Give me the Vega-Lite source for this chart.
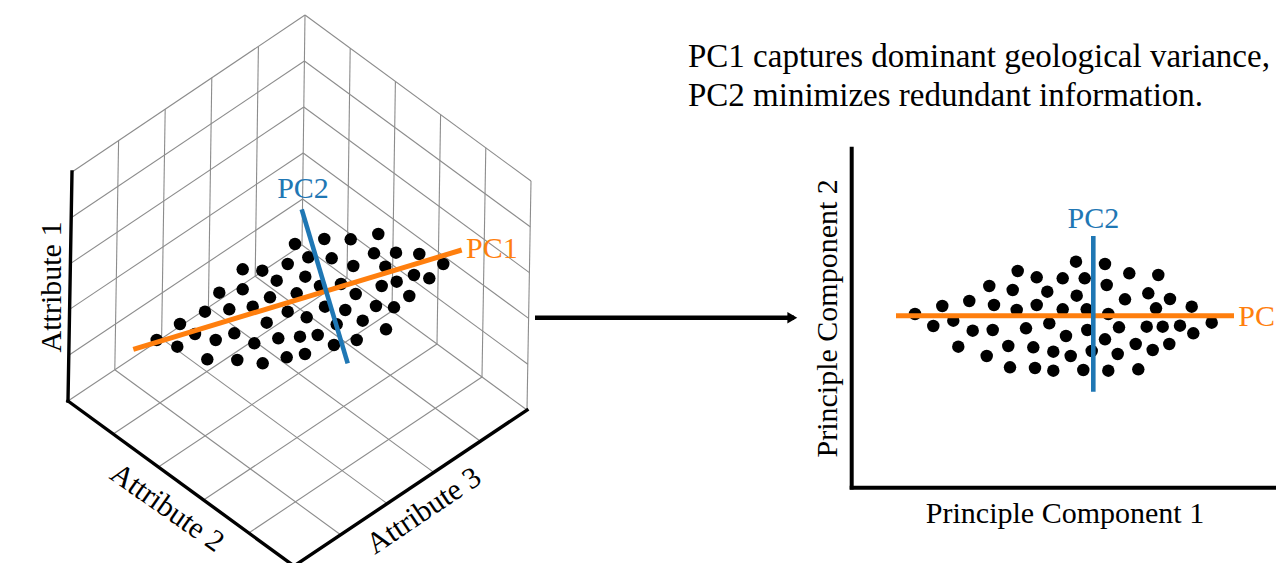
{
  "$schema": "https://vega.github.io/schema/vega-lite/v6.json",
  "width": 1276,
  "height": 563,
  "autosize": "none",
  "padding": 0,
  "background": "white",
  "config": {"view": {"stroke": null}},
  "encoding": {
    "x": {"field": "x", "type": "quantitative", "scale": {"domain": [0, 1276], "nice": false, "zero": false}, "axis": null},
    "y": {"field": "y", "type": "quantitative", "scale": {"domain": [563, 0], "nice": false, "zero": false}, "axis": null}
  },
  "layer": [
    {
      "data": {"values": [
        {"x": 305, "y": 15, "x2": 72, "y2": 172},
        {"x": 305, "y": 15, "x2": 302, "y2": 245},
        {"x": 302, "y": 245, "x2": 68, "y2": 401},
        {"x": 118.6, "y": 140.6, "x2": 114.8, "y2": 369.8},
        {"x": 165.2, "y": 109.2, "x2": 161.6, "y2": 338.6},
        {"x": 211.8, "y": 77.8, "x2": 208.4, "y2": 307.4},
        {"x": 258.4, "y": 46.4, "x2": 255.2, "y2": 276.2},
        {"x": 71.2, "y": 217.8, "x2": 304.4, "y2": 61},
        {"x": 70.4, "y": 263.6, "x2": 303.8, "y2": 107},
        {"x": 69.6, "y": 309.4, "x2": 303.2, "y2": 153},
        {"x": 68.8, "y": 355.2, "x2": 302.6, "y2": 199},
        {"x": 305, "y": 15, "x2": 531, "y2": 181},
        {"x": 531, "y": 181, "x2": 527, "y2": 410},
        {"x": 302, "y": 245, "x2": 527, "y2": 410},
        {"x": 350.2, "y": 48.2, "x2": 347, "y2": 278},
        {"x": 395.4, "y": 81.4, "x2": 392, "y2": 311},
        {"x": 440.6, "y": 114.6, "x2": 437, "y2": 344},
        {"x": 485.8, "y": 147.8, "x2": 482, "y2": 377},
        {"x": 304.4, "y": 61, "x2": 530.2, "y2": 226.8},
        {"x": 303.8, "y": 107, "x2": 529.4, "y2": 272.6},
        {"x": 303.2, "y": 153, "x2": 528.6, "y2": 318.4},
        {"x": 302.6, "y": 199, "x2": 527.8, "y2": 364.2},
        {"x": 255.2, "y": 276.2, "x2": 480.4, "y2": 441.2},
        {"x": 208.4, "y": 307.4, "x2": 433.8, "y2": 472.4},
        {"x": 161.6, "y": 338.6, "x2": 387.2, "y2": 503.6},
        {"x": 114.8, "y": 369.8, "x2": 340.6, "y2": 534.8},
        {"x": 347, "y": 278, "x2": 113.2, "y2": 434},
        {"x": 392, "y": 311, "x2": 158.4, "y2": 467},
        {"x": 437, "y": 344, "x2": 203.6, "y2": 500},
        {"x": 482, "y": 377, "x2": 248.8, "y2": 533}
      ]},
      "mark": {"type": "rule", "color": "#8c8c8c", "strokeWidth": 1.1, "clip": true},
      "encoding": {"x2": {"field": "x2"}, "y2": {"field": "y2"}}
    },
    {
      "data": {"values": [
        {"x": 72, "y": 172, "x2": 68, "y2": 401},
        {"x": 68, "y": 401, "x2": 294, "y2": 566},
        {"x": 294, "y": 566, "x2": 527, "y2": 410}
      ]},
      "mark": {"type": "rule", "color": "#000000", "strokeWidth": 3.4, "strokeCap": "square", "clip": true},
      "encoding": {"x2": {"field": "x2"}, "y2": {"field": "y2"}}
    },
    {
      "data": {"values": [
        {"x": 851.7, "y": 146.7, "x2": 851.7, "y2": 489.6},
        {"x": 849.7, "y": 487.7, "x2": 1276, "y2": 487.7}
      ]},
      "mark": {"type": "rule", "color": "#000000", "strokeWidth": 4, "clip": true},
      "encoding": {"x2": {"field": "x2"}, "y2": {"field": "y2"}}
    },
    {
      "data": {"values": [
        {"x": 535, "y": 317.7, "x2": 794, "y2": 317.7}
      ]},
      "mark": {"type": "rule", "color": "#000000", "strokeWidth": 4.5, "clip": true},
      "encoding": {"x2": {"field": "x2"}, "y2": {"field": "y2"}}
    },
    {
      "data": {"values": [{"x": 792.3, "y": 317.7}]},
      "mark": {"type": "point", "shape": "triangle-right", "filled": true, "color": "#000000", "opacity": 1, "size": 130, "clip": true}
    },
    {
      "data": {"values": [
        {"x": 378.3, "y": 234}, {"x": 324.3, "y": 239}, {"x": 350.7, "y": 239.3}, {"x": 295, "y": 244},
        {"x": 374, "y": 253.3}, {"x": 396, "y": 252.7}, {"x": 419.3, "y": 254}, {"x": 308.3, "y": 257.3},
        {"x": 331.7, "y": 258.3}, {"x": 443.3, "y": 264}, {"x": 287.7, "y": 264}, {"x": 353.3, "y": 266},
        {"x": 385.3, "y": 266.7}, {"x": 242.7, "y": 269.3}, {"x": 262.3, "y": 270.7}, {"x": 414, "y": 275},
        {"x": 429.3, "y": 278.3}, {"x": 305.3, "y": 276.7}, {"x": 276.7, "y": 280.7}, {"x": 396.7, "y": 281.7},
        {"x": 381.7, "y": 286}, {"x": 341, "y": 284}, {"x": 320, "y": 286}, {"x": 242.7, "y": 289.3},
        {"x": 219.3, "y": 292.7}, {"x": 296.7, "y": 293.3}, {"x": 270, "y": 297.3}, {"x": 355.7, "y": 294},
        {"x": 409.3, "y": 296}, {"x": 205, "y": 311.7}, {"x": 229.3, "y": 309.3}, {"x": 252.7, "y": 306.7},
        {"x": 287.7, "y": 311.7}, {"x": 325, "y": 306.7}, {"x": 345.3, "y": 310}, {"x": 376, "y": 306},
        {"x": 394, "y": 307.3}, {"x": 306.7, "y": 317.3}, {"x": 266.7, "y": 322.7}, {"x": 180, "y": 324},
        {"x": 362.7, "y": 320.7}, {"x": 336.7, "y": 324.3}, {"x": 386, "y": 329.3}, {"x": 156.7, "y": 340},
        {"x": 195, "y": 334}, {"x": 234.3, "y": 333.3}, {"x": 278.3, "y": 338.3}, {"x": 300, "y": 336.7},
        {"x": 317.7, "y": 335}, {"x": 215.7, "y": 340}, {"x": 254.3, "y": 343.3}, {"x": 356.7, "y": 340},
        {"x": 177.3, "y": 346.7}, {"x": 334, "y": 345}, {"x": 286.7, "y": 357.3}, {"x": 305, "y": 354},
        {"x": 207.3, "y": 359.3}, {"x": 237.3, "y": 360}, {"x": 262.7, "y": 363.3}
      ]},
      "mark": {"type": "circle", "color": "#000000", "opacity": 1, "size": 155}
    },
    {
      "data": {"values": [
        {"x": 1076, "y": 261.7}, {"x": 1105, "y": 264}, {"x": 1017.7, "y": 271}, {"x": 1036.7, "y": 277.3},
        {"x": 1062.7, "y": 278.3}, {"x": 1084.7, "y": 278.3}, {"x": 1129.3, "y": 273.3}, {"x": 1158.3, "y": 275},
        {"x": 989.3, "y": 286}, {"x": 1012.7, "y": 290}, {"x": 1047.3, "y": 291.7}, {"x": 1076.7, "y": 295.7},
        {"x": 1106.7, "y": 285}, {"x": 969.3, "y": 301}, {"x": 994, "y": 305}, {"x": 1016.7, "y": 310},
        {"x": 1036.7, "y": 305}, {"x": 1062.7, "y": 309.3}, {"x": 1086.7, "y": 309.3}, {"x": 1125, "y": 299.3},
        {"x": 1148.3, "y": 293.3}, {"x": 1170, "y": 299}, {"x": 1156, "y": 308.3}, {"x": 1191.7, "y": 306.7},
        {"x": 942.3, "y": 306}, {"x": 915, "y": 314}, {"x": 1108.3, "y": 314}, {"x": 933.3, "y": 326},
        {"x": 953.3, "y": 320.7}, {"x": 972.7, "y": 330.7}, {"x": 992.7, "y": 330}, {"x": 1026, "y": 328.3},
        {"x": 1049.3, "y": 323.3}, {"x": 1066, "y": 336}, {"x": 1087.3, "y": 330}, {"x": 1119, "y": 327.3},
        {"x": 1146.7, "y": 326.7}, {"x": 1162.7, "y": 326.7}, {"x": 1180, "y": 325.7}, {"x": 1211.7, "y": 322.7},
        {"x": 1193.3, "y": 333.3}, {"x": 1105, "y": 339.3}, {"x": 958.3, "y": 346.7}, {"x": 1008.3, "y": 346},
        {"x": 1033.3, "y": 347.3}, {"x": 1053.3, "y": 351.7}, {"x": 1070.7, "y": 356}, {"x": 1091.7, "y": 351},
        {"x": 1117.7, "y": 354}, {"x": 1135.7, "y": 344}, {"x": 1152.7, "y": 350}, {"x": 1169.3, "y": 344},
        {"x": 986.7, "y": 356}, {"x": 1010, "y": 367.3}, {"x": 1035, "y": 368}, {"x": 1053.3, "y": 370.7},
        {"x": 1083.3, "y": 370}, {"x": 1108.3, "y": 370.7}, {"x": 1138.3, "y": 369.3}
      ]},
      "mark": {"type": "circle", "color": "#000000", "opacity": 1, "size": 155}
    },
    {
      "data": {"values": [
        {"x": 133.3, "y": 349.3, "x2": 461.7, "y2": 250},
        {"x": 896, "y": 315.7, "x2": 1234, "y2": 315.7}
      ]},
      "mark": {"type": "rule", "color": "#ff7f0e", "strokeWidth": 5, "clip": true},
      "encoding": {"x2": {"field": "x2"}, "y2": {"field": "y2"}}
    },
    {
      "data": {"values": [
        {"x": 301.7, "y": 209.3, "x2": 347.7, "y2": 363.3},
        {"x": 1093.3, "y": 236, "x2": 1093.3, "y2": 391.7}
      ]},
      "mark": {"type": "rule", "color": "#1f77b4", "strokeWidth": 4.6, "clip": true},
      "encoding": {"x2": {"field": "x2"}, "y2": {"field": "y2"}}
    },
    {
      "data": {"values": [
        {"x": 688, "y": 67, "label": "PC1 captures dominant geological variance,"},
        {"x": 688, "y": 106, "label": "PC2 minimizes redundant information."}
      ]},
      "mark": {"type": "text", "font": "Liberation Serif", "fontSize": 33, "align": "left", "baseline": "alphabetic", "color": "#000000", "clip": true},
      "encoding": {"text": {"field": "label"}}
    },
    {
      "data": {"values": [{"x": 1065, "y": 523, "label": "Principle Component 1"}]},
      "mark": {"type": "text", "font": "Liberation Serif", "fontSize": 30, "align": "center", "baseline": "alphabetic", "color": "#000000"},
      "encoding": {"text": {"field": "label"}}
    },
    {
      "data": {"values": [{"x": 828.3, "y": 318.3, "label": "Principle Component 2"}]},
      "mark": {"type": "text", "font": "Liberation Serif", "fontSize": 30, "align": "center", "baseline": "middle", "angle": 270, "color": "#000000"},
      "encoding": {"text": {"field": "label"}}
    },
    {
      "data": {"values": [{"x": 52, "y": 287, "label": "Attribute 1"}]},
      "mark": {"type": "text", "font": "Liberation Serif", "fontSize": 30, "align": "center", "baseline": "middle", "angle": 270, "color": "#000000"},
      "encoding": {"text": {"field": "label"}}
    },
    {
      "data": {"values": [{"x": 167, "y": 508, "label": "Attribute 2"}]},
      "mark": {"type": "text", "font": "Liberation Serif", "fontSize": 30, "align": "center", "baseline": "middle", "angle": 35, "color": "#000000"},
      "encoding": {"text": {"field": "label"}}
    },
    {
      "data": {"values": [{"x": 424, "y": 511, "label": "Attribute 3"}]},
      "mark": {"type": "text", "font": "Liberation Serif", "fontSize": 30, "align": "center", "baseline": "middle", "angle": 326, "color": "#000000"},
      "encoding": {"text": {"field": "label"}}
    },
    {
      "data": {"values": [
        {"x": 303, "y": 198.3, "label": "PC2"},
        {"x": 1093.3, "y": 228.3, "label": "PC2"}
      ]},
      "mark": {"type": "text", "font": "Liberation Serif", "fontSize": 30, "align": "center", "baseline": "alphabetic", "color": "#1f77b4"},
      "encoding": {"text": {"field": "label"}}
    },
    {
      "data": {"values": [
        {"x": 466, "y": 258.3, "label": "PC1"},
        {"x": 1238.3, "y": 326, "label": "PC1"}
      ]},
      "mark": {"type": "text", "font": "Liberation Serif", "fontSize": 30, "align": "left", "baseline": "alphabetic", "color": "#ff7f0e", "clip": true},
      "encoding": {"text": {"field": "label"}}
    }
  ]
}
